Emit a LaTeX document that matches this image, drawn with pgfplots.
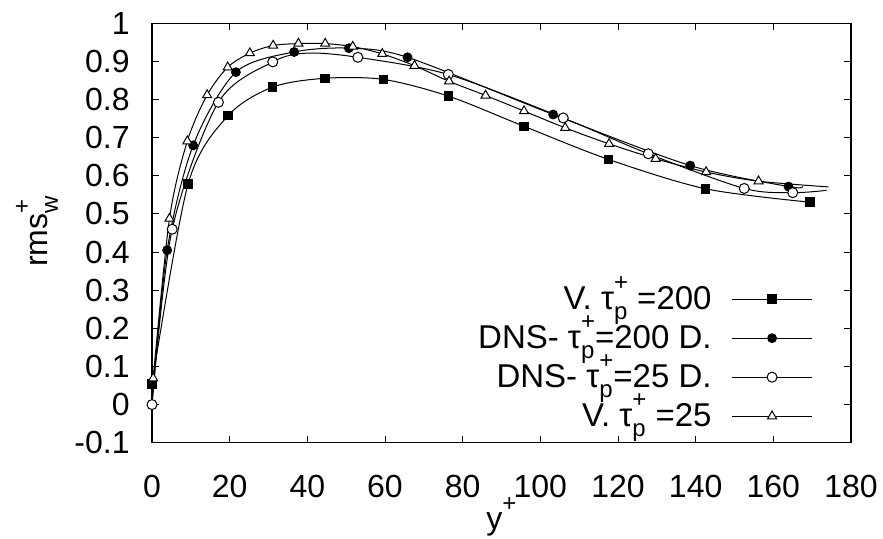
\documentclass[border=0pt]{standalone}
\usepackage{pgfplots}
\pgfplotsset{compat=1.18}
\usepackage{fontspec}
\setmainfont{Liberation Sans}
\newcommand{\tp}{τ\rlap{\raisebox{-0.6ex}{\fontsize{12}{12}\selectfont p}}\raisebox{1.05ex}{\fontsize{12}{12}\selectfont +}}

\pgfplotstableread{
x y
0 0.054
9.3 0.579
19.6 0.758
31.1 0.833
44.6 0.856
59.6 0.853
76.4 0.809
95.8 0.730
117.6 0.643
142.6 0.566
169.4 0.531
}\vA

\pgfplotstableread{
x y
0 0.0
3.9 0.405
10.6 0.680
21.6 0.872
36.6 0.925
50.7 0.935
65.8 0.911
103.3 0.761
138.6 0.627
163.9 0.572
}\dA
\pgfplotstableread{
x y
0 0.0
3.9 0.405
10.6 0.680
21.6 0.872
36.6 0.925
50.7 0.935
65.8 0.911
103.3 0.761
138.6 0.627
163.9 0.572
167.6 0.572
}\dAline

\pgfplotstableread{
x y
0 0.0
5.2 0.460
17.1 0.793
31.1 0.899
53.0 0.911
76.3 0.866
105.9 0.752
127.8 0.658
152.5 0.567
165.0 0.556
}\dB
\pgfplotstableread{
x y
0 0.0
5.2 0.460
17.1 0.793
31.1 0.899
40.0 0.922
53.0 0.911
76.3 0.866
105.9 0.752
127.8 0.658
152.5 0.567
165.0 0.556
173.7 0.562
}\dBline

\pgfplotstableread{
x y
0.3 0.069
4.5 0.488
9.1 0.691
14.2 0.812
19.5 0.885
25.2 0.922
31.2 0.942
37.7 0.947
44.6 0.947
51.7 0.939
59.3 0.920
67.6 0.889
76.5 0.848
85.9 0.811
95.8 0.770
106.4 0.726
117.7 0.684
129.7 0.645
142.7 0.610
156.2 0.586
}\vB
\pgfplotstableread{
x y
0.3 0.069
4.5 0.488
9.1 0.691
14.2 0.812
19.5 0.885
25.2 0.922
31.2 0.942
37.7 0.947
44.6 0.947
51.7 0.939
59.3 0.920
67.6 0.889
76.5 0.848
85.9 0.811
95.8 0.770
106.4 0.726
117.7 0.684
129.7 0.645
142.7 0.610
156.2 0.586
174.2 0.571
}\vBline

\begin{document}
\begin{tikzpicture}
\useasboundingbox (-76pt,-48pt) rectangle (365.5pt,221.35pt);
\begin{axis}[
  at={(0pt,0pt)}, anchor=south west,
  scale only axis, width=349.5pt, height=209.65pt,
  xmin=0, xmax=180, ymin=-0.1, ymax=1,
  xtick={0,20,...,180},
  ytick={-0.1,0,0.1,0.2,0.3,0.4,0.5,0.6,0.7,0.8,0.9,1},
  yticklabels={-0.1,0,0.1,0.2,0.3,0.4,0.5,0.6,0.7,0.8,0.9,1},
  tick align=inside, major tick length=3.5pt,
  tick style={black, line width=0.5pt},
  axis line style={line width=0.65pt},
  /pgf/number format/assume math mode=true,
  tick label style={font=\fontsize{16}{18}\selectfont, inner sep=0pt},
  xticklabel style={anchor=center, yshift=-22pt},
  yticklabel style={anchor=east, xshift=-11pt},
  xlabel={y\raisebox{1.05ex}{\fontsize{12}{12}\selectfont +}},
  ylabel={rms\rlap{\raisebox{-0.6ex}{\fontsize{12}{12}\selectfont w}}\raisebox{1.05ex}{\fontsize{12}{12}\selectfont +}},
  every axis x label/.style={at={(rel axis cs:0.5,0)}, yshift=-37pt, anchor=center, font=\fontsize{16}{18}\selectfont},
  every axis y label/.style={at={(rel axis cs:0,0.5)}, xshift=-57.5pt, rotate=90, anchor=center, font=\fontsize{16}{18}\selectfont},
  legend plot pos=right,
  legend cell align=right,
  legend style={draw=none, fill=none, at={(rel axis cs:0.9456,0.0193)}, anchor=south east,
    font=\fontsize{16.5}{18}\selectfont, inner sep=0pt, row sep=6.5pt, column sep=10pt,
    nodes={text height=9pt, text depth=4pt, inner sep=0pt}},
  legend image code/.code={\draw[black, line width=0.5pt] (0pt,2.5pt) -- (40pt,2.5pt);
     \draw[#1] plot coordinates {(20pt,2.5pt)};},
]
\addplot[black, line width=0.5pt, smooth, forget plot] table {\vA};
\addplot[black, line width=0.5pt, smooth, forget plot] table {\dAline};
\addplot[black, line width=0.5pt, smooth, forget plot] table {\dBline};
\addplot[black, line width=0.5pt, smooth, forget plot] table {\vBline};
\addplot[only marks, mark=square*, mark size=2.1pt, mark options={fill=black, line width=0.5pt}] table {\vA};
\addlegendentry{V. \tp\ =200}
\addplot[only marks, mark=*, mark size=2.2pt, mark options={fill=black, line width=0.5pt}] table {\dA};
\addlegendentry{DNS- \tp=200 D.}
\addplot[only marks, mark=*, mark size=2.5pt, mark options={fill=white, draw=black, line width=0.5pt}] table {\dB};
\addlegendentry{DNS- \tp=25 D.}
\addplot[only marks, mark=triangle*, mark size=2.6pt, mark options={fill=white, draw=black, line width=0.5pt}] table {\vB};
\addlegendentry{V. \tp\ =25}
\end{axis}
\end{tikzpicture}
\end{document}
